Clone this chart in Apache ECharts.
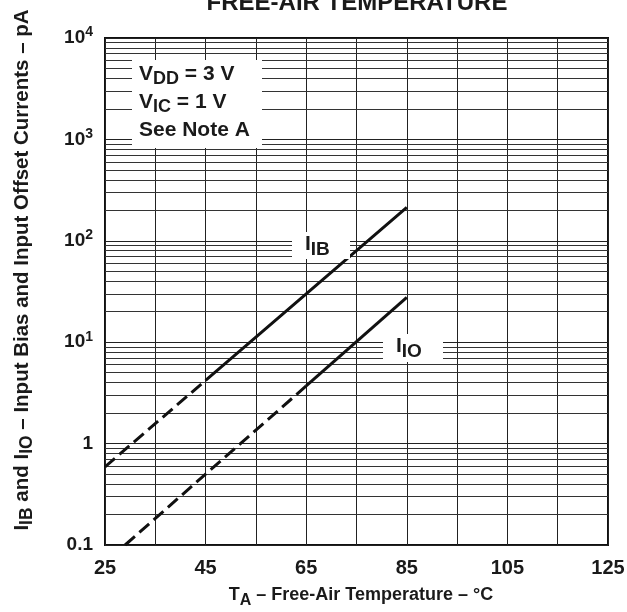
<!DOCTYPE html>
<html><head><meta charset="utf-8">
<script src="https://cdn.jsdelivr.net/npm/echarts@6/dist/echarts.min.js"></script>
<style>html,body{margin:0;padding:0;background:#fff}#c{width:627px;height:612px}</style>
</head><body><div id="c"></div>
<script>
// Data
var xTicks = [25, 45, 65, 85, 105, 125];
var ibDashed = [[25, 0.59], [45, 4.2]];
var ibSolid = [[45, 4.2], [65, 30], [85, 214]];
var ioDashed = [[29, 0.1], [45, 0.5], [65, 3.7]];
var ioSolid = [[65, 3.7], [85, 27.7]];
var decades = [0.1, 1, 10, 100, 1000];
var minorMult = [2, 3, 4, 5, 6, 7, 8, 9];
var yTickLabels = {'0.1': '{b|0.1}', '1': '{b|1}', '10': '{b|10}{sup|1}', '100': '{b|10}{sup|2}', '1000': '{b|10}{sup|3}', '10000': '{b|10}{sup|4}'};

var FONT = '"Liberation Sans", Arial, Helvetica, sans-serif';
var TXT = '#1a1a1a';
var gridLines = [];
decades.forEach(function (d) {
  minorMult.forEach(function (m) { gridLines.push({ yAxis: +(d * m).toPrecision(3) }); });
});

var chart = echarts.init(document.getElementById('c'), null, { renderer: 'canvas' });
var lineBase = { type: 'line', symbol: 'none', smooth: false, silent: true, animation: false };
function sty(type) { return { color: '#111', width: 3, type: type }; }
function richB(fs, sfs, pad) {
  return {
    b: { fontFamily: FONT, fontWeight: 'bold', fontSize: fs, fill: TXT, color: TXT },
    sub: { fontFamily: FONT, fontWeight: 'bold', fontSize: sfs, fill: TXT, color: TXT, padding: [pad, 0, 0, 0] }
  };
}

chart.setOption({
  backgroundColor: '#fff',
  animation: false,
  grid: { left: 105, right: 19, top: 38, bottom: 67, containLabel: false, outerBoundsMode: 'none',
    show: true, borderColor: '#111', borderWidth: 2, backgroundColor: 'transparent' },
  xAxis: {
    type: 'value', min: 25, max: 125, interval: 10,
    axisLine: { show: false }, axisTick: { show: false },
    splitLine: { show: true, lineStyle: { color: '#222', width: 1 } },
    axisLabel: {
      margin: 13, color: TXT, fontFamily: FONT, fontWeight: 'bold', fontSize: 20,
      formatter: function (v) { return xTicks.indexOf(v) >= 0 ? String(v) : ''; }
    }
  },
  yAxis: {
    type: 'log', logBase: 10, min: 0.1, max: 10000,
    axisLine: { show: false }, axisTick: { show: false },
    splitLine: { show: true, lineStyle: { color: '#222', width: 1 } },
    minorSplitLine: { show: false },
    axisLabel: {
      margin: 12, fontFamily: FONT,
      formatter: function (v) { var k = String(+v.toPrecision(3)); return yTickLabels[k] || ''; },
      rich: {
        b: { fontFamily: FONT, fontWeight: 'bold', fontSize: 19, color: TXT },
        sup: { fontFamily: FONT, fontWeight: 'bold', fontSize: 14, color: TXT, padding: [0, 0, 11, 0] }
      }
    }
  },
  series: [
    Object.assign({}, lineBase, {
      data: ibDashed, lineStyle: sty([13, 6]), z: 3,
      markLine: { silent: true, symbol: 'none', animation: false, label: { show: false },
        lineStyle: { color: '#333', width: 1, type: 'solid' }, data: gridLines, z: 1 }
    }),
    Object.assign({}, lineBase, { data: ibSolid, lineStyle: sty('solid'), z: 3 }),
    Object.assign({}, lineBase, { data: ioDashed, lineStyle: sty([13, 6]), z: 3 }),
    Object.assign({}, lineBase, { data: ioSolid, lineStyle: sty('solid'), z: 3 })
  ],
  graphic: [
    { type: 'text', z: 100, x: 357, y: 3, style: { text: 'FREE-AIR TEMPERATURE', fill: TXT, font: 'bold 24px ' + FONT, textAlign: 'center', textVerticalAlign: 'middle' } },
    { type: 'rect', z: 100, shape: { x: 132, y: 60, width: 130, height: 88 }, style: { fill: '#fff' } },
    { type: 'text', z: 101, x: 139, y: 60, style: {
      text: '{b|V}{sub|DD}{b| = 3 V}\n{b|V}{sub|IC}{b| = 1 V}\n{b|See Note A}',
      rich: {
        b: { fontFamily: FONT, fontWeight: 'bold', fontSize: 21, fill: TXT, lineHeight: 28 },
        sub: { fontFamily: FONT, fontWeight: 'bold', fontSize: 18, fill: TXT, padding: [10, 0, 0, 0], lineHeight: 28 }
      } } },
    { type: 'rect', z: 100, shape: { x: 292, y: 232, width: 58, height: 27 }, style: { fill: '#fff' } },
    { type: 'text', z: 101, x: 305, y: 230, style: { text: '{b|I}{sub|IB}', rich: richB(21, 19, 10) } },
    { type: 'rect', z: 100, shape: { x: 383, y: 334, width: 60, height: 28 }, style: { fill: '#fff' } },
    { type: 'text', z: 101, x: 396, y: 332, style: { text: '{b|I}{sub|IO}', rich: richB(21, 19, 10) } },
    { type: 'text', z: 100, x: 361, y: 595, style: {
      text: '{b|T}{sub|A}{b| – Free-Air Temperature – °C}',
      textAlign: 'center', textVerticalAlign: 'middle', rich: richB(18, 16, 11) } },
    { type: 'text', z: 100, x: 22, y: 270, rotation: Math.PI / 2, style: {
      text: '{b|I}{sub|IB}{b| and I}{sub|IO}{b| – Input Bias and Input Offset Currents – pA}',
      textAlign: 'center', textVerticalAlign: 'middle', rich: richB(20.5, 17.5, 10) } }
  ]
});
</script></body></html>
